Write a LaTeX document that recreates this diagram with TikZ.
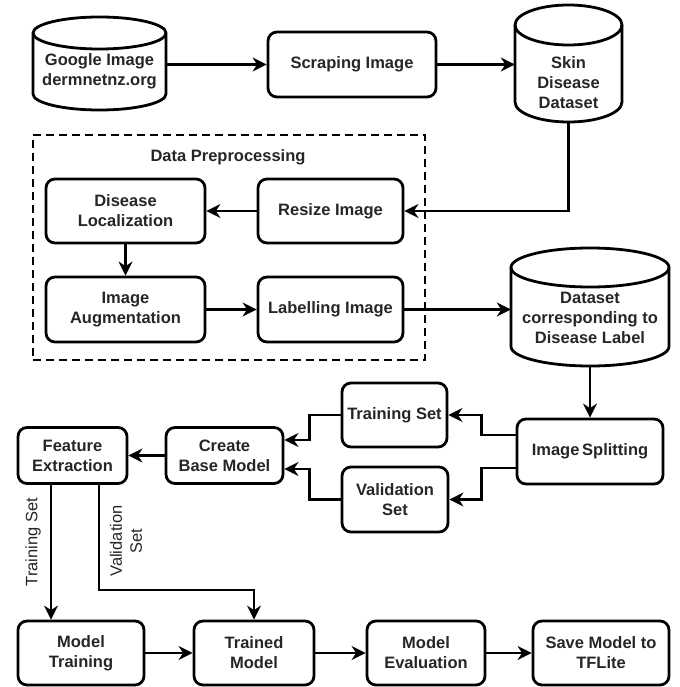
\documentclass[tikz,border=0pt]{standalone}
\usepackage{fontspec}
\setmainfont{Liberation Sans}
\usetikzlibrary{arrows.meta,calc}
\definecolor{txt}{HTML}{262626}
\begin{document}
\begin{tikzpicture}[x=1pt,y=-1pt,
  line/.style={line width=2.8pt},
  arr/.style={line width=2.8pt, -{Stealth[length=14pt,width=14pt,inset=4.5pt]}},
  box/.style={draw, line width=2.8pt, rounded corners=9pt, align=center, inner sep=0pt, text=txt, font=\bfseries\fontsize{16.5}{20}\selectfont},
  lbl/.style={align=center, inner sep=0pt, text=txt, font=\fontsize{16.5}{20}\selectfont},
  ctext/.style={align=center, inner sep=0pt, text=txt, font=\bfseries\fontsize{16.5}{20}\selectfont}]
\useasboundingbox (0,0) rectangle (679,687);

% ---- cylinders ----
% Google
\draw[line] (33,33) -- (33,94) arc[start angle=180,end angle=0,x radius=66.5,y radius=16] -- (166,33) arc[start angle=0,end angle=-180,x radius=66.5,y radius=16] -- cycle;
\draw[line] (33,33) arc[start angle=180,end angle=0,x radius=66.5,y radius=16];
\node[ctext, minimum width=133pt, minimum height=77pt] (g) at (99.5,71.5) {Google Image\\dermnetnz.org};
% Skin
\draw[line] (515,25) -- (515,102) arc[start angle=180,end angle=0,x radius=53.5,y radius=20] -- (622,25) arc[start angle=0,end angle=-180,x radius=53.5,y radius=20] -- cycle;
\draw[line] (515,25) arc[start angle=180,end angle=0,x radius=53.5,y radius=20];
\node[ctext, minimum width=107pt, minimum height=78pt] (skin) at (568.5,83) {Skin\\Disease\\Dataset};
% Dataset
\draw[line] (511,267.5) -- (511,346.5) arc[start angle=180,end angle=0,x radius=79,y radius=19.5] -- (669,267.5) arc[start angle=0,end angle=-180,x radius=79,y radius=19.5] -- cycle;
\draw[line] (511,267.5) arc[start angle=180,end angle=0,x radius=79,y radius=19.5];
\node[ctext, minimum width=158pt, minimum height=96pt] (ds) at (590,318) {Dataset\\corresponding to\\Disease Label};

% ---- boxes ----
\node[box, minimum width=168pt, minimum height=65pt] (scrape) at (352,64.5) {Scraping Image};

\node[draw, line width=2.6pt, dash pattern=on 8pt off 5pt, minimum width=392pt, minimum height=225pt, inner sep=0pt] (prep) at (229,247.5) {};
\node[ctext] (preptitle) at (228,157) {Data Preprocessing};

\node[box, minimum width=159pt, minimum height=64pt] (dloc) at (125.5,211) {Disease\\Localization};
\node[box, minimum width=145pt, minimum height=64pt] (resize) at (330.5,211) {Resize Image};
\node[box, minimum width=159pt, minimum height=65pt] (aug) at (125.5,309.5) {Image\\Augmentation};
\node[box, minimum width=145pt, minimum height=65pt] (labl) at (330.5,309.5) {Labelling Image};

\node[box, minimum width=146pt, minimum height=65pt] (split) at (590,451.5) {Image\,Splitting};
\node[box, minimum width=105pt, minimum height=64pt] (train) at (394.5,415) {Training Set};
\node[box, minimum width=106pt, minimum height=65pt] (valid) at (395,499.5) {Validation\\Set};
\node[box, minimum width=117pt, minimum height=56pt] (create) at (224.5,455.5) {Create\\Base Model};
\node[box, minimum width=109pt, minimum height=56pt] (feat) at (72.5,455.5) {Feature\\Extraction};

\node[box, minimum width=126pt, minimum height=64pt] (mtrain) at (81,653) {Model\\Training};
\node[box, minimum width=120pt, minimum height=64pt] (tmodel) at (254,653) {Trained\\Model};
\node[box, minimum width=118pt, minimum height=64pt] (meval) at (426,653) {Model\\Evaluation};
\node[box, minimum width=136pt, minimum height=64pt] (save) at (601,653) {Save Model to\\TFLite};

\node[lbl, rotate=90] (tsl) at (33,542) {Training Set};
\node[lbl, rotate=90] (vsl) at (126,541) {Validation\\Set};

% ---- connectors ----
\draw[arr] (g.east |- scrape.west) -- (scrape.west);
\draw[arr] (scrape.east) -- (scrape.east -| skin.west);
\draw[arr] (skin.south) |- (resize.east);
\draw[arr] (resize.west) -- (dloc.east);
\draw[arr] (dloc.south) -- (aug.north);
\draw[arr] (aug.east) -- (labl.west);
\draw[arr] (labl.east) -- (labl.east -| ds.west);
\draw[arr] (ds.south) -- (split.north);
\draw[arr] ([yshift=16.5pt]split.west) -- ++(-34,0) |- (train.east);
\draw[arr] ([yshift=-16.5pt]split.west) -- ++(-34,0) |- (valid.east);
\draw[arr] (train.west) -- ++(-31,0) |- ([yshift=15.5pt]create.east);
\draw[arr] (valid.west) -- ++(-31,0) |- ([yshift=-13.5pt]create.east);
\draw[arr] (create.west) -- (feat.east);
\coordinate (t1) at ([xshift=-21.5pt]feat.south);
\draw[arr] (t1) -- (t1 |- mtrain.north);
\coordinate (v1) at ([xshift=26.5pt]feat.south);
\draw[arr] (v1) -- ++(0,105) -| (tmodel.north);
\draw[arr] (mtrain.east) -- (tmodel.west);
\draw[arr] (tmodel.east) -- (meval.west);
\draw[arr] (meval.east) -- (save.west);
\end{tikzpicture}
\end{document}
